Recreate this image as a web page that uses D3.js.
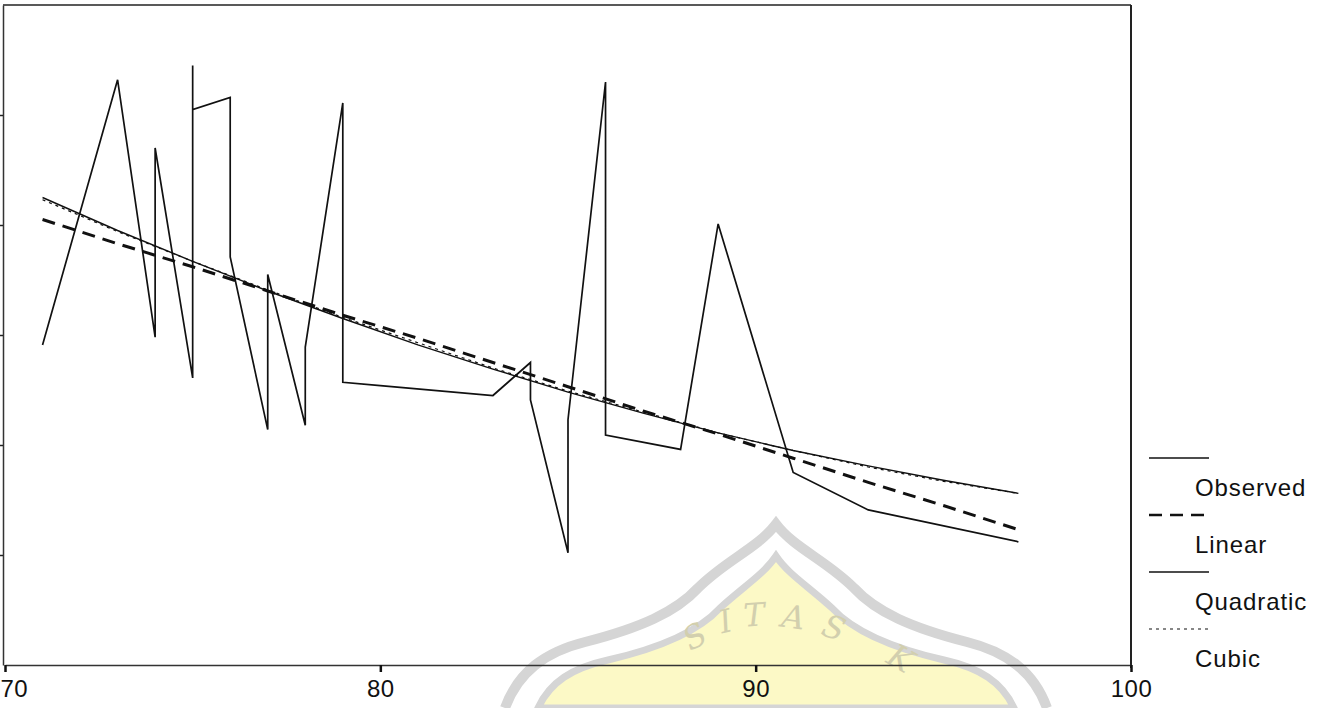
<!DOCTYPE html>
<html>
<head>
<meta charset="utf-8">
<script src="https://cdn.jsdelivr.net/npm/d3@7"></script>
<style>
	body { margin: 0; background: #fff; }
	svg { display: block; font-family: "Liberation Sans", Arial, sans-serif; }
</style>
</head>
<body>
<div id="grafico"></div>
<script>
// observed values, in the order the line was drawn (several values per age)
const obsAge = [71, 73, 74, 74, 75, 75, 75, 76, 76, 77, 77, 78, 78, 79, 79, 80, 83, 84, 84, 85, 85, 86, 86, 88, 89, 91, 93, 97];
const obsValue = [2.91, 5.32, 2.98, 4.70, 2.61, 5.45, 5.05, 5.16, 3.71, 2.14, 3.55, 2.18, 2.89, 5.11, 2.57, 2.54, 2.45, 2.75, 2.41, 1.02, 2.23, 5.30, 2.09, 1.96, 4.01, 1.75, 1.41, 1.12];

// fitted curves
const fitAge = [71, 73, 75, 77, 79, 81, 83, 85, 87, 89, 91, 93, 95, 97];
const linearValue = [4.05, 3.83, 3.62, 3.40, 3.18, 2.97, 2.75, 2.53, 2.31, 2.10, 1.88, 1.66, 1.45, 1.23];
const quadraticValue = [4.25, 3.95, 3.67, 3.40, 3.15, 2.91, 2.69, 2.48, 2.29, 2.11, 1.95, 1.81, 1.68, 1.56];
const cubicValue = [4.23, 3.94, 3.67, 3.41, 3.16, 2.93, 2.70, 2.49, 2.30, 2.11, 1.95, 1.80, 1.67, 1.56];

const xTicks = [70, 80, 90, 100];
const yTicks = [1, 2, 3, 4, 5];
const legendLabels = ["Observed", "Linear", "Quadratic", "Cubic"];

const ancho = 1319;
const alto = 708;
const marginLeft = 5;
const plotRight = 1131;
const marginTop = 5;
const plotBottom = 665;

const svg = d3.select("#grafico")
	.append("svg")
	.attr("width", ancho)
	.attr("height", alto);

// watermark of the scanned page
const marca = svg.append("g").attr("class", "watermark");
marca.append("path")
	.attr("d", "M505,708 C518,672 545,652 585,642 C640,628 676,612 698,588 C726,560 758,548 776,524 C794,548 826,560 854,588 C876,612 912,628 967,642 C1007,652 1034,672 1047,708")
	.attr("fill", "none")
	.attr("stroke", "#d5d5d5")
	.attr("stroke-width", 10);
marca.append("path")
	.attr("d", "M538,708 C550,682 572,668 608,660 C660,648 698,632 720,608 C744,586 764,574 776,556 C788,574 808,586 832,608 C854,632 892,648 944,660 C980,668 1002,682 1014,708 Z")
	.attr("fill", "#fcf9c6")
	.attr("stroke", "#d5d5d5")
	.attr("stroke-width", 7);
const letras = [["S", 700, 646, -28], ["I", 728, 632, -14], ["T", 755, 626, -4], ["A", 792, 628, 8], ["S", 830, 638, 20], ["K", 895, 668, 30]];
marca.selectAll("text")
	.data(letras)
	.enter()
	.append("text")
	.attr("transform", d => "translate(" + d[1] + "," + d[2] + ") rotate(" + d[3] + ")")
	.attr("text-anchor", "middle")
	.attr("font-family", "DejaVu Serif, serif")
	.attr("font-style", "italic")
	.attr("font-size", 32)
	.attr("fill", "#d2cfae")
	.text(d => d[0]);

const xScale = d3.scaleLinear()
	.domain([70, 100])
	.range([marginLeft, plotRight]);

const yScale = d3.scaleLinear()
	.domain([0, 6])
	.range([plotBottom, marginTop]);

// frame: top and right
svg.append("line")
	.attr("x1", 3).attr("x2", plotRight)
	.attr("y1", marginTop).attr("y2", marginTop)
	.attr("stroke", "#222").attr("stroke-width", 1.5);
svg.append("line")
	.attr("x1", plotRight).attr("x2", plotRight)
	.attr("y1", marginTop).attr("y2", plotBottom + 3)
	.attr("stroke", "#222").attr("stroke-width", 2);

// axes
const xAxis = d3.axisBottom(xScale).tickValues(xTicks).tickSize(7).tickSizeOuter(0);
const yAxis = d3.axisLeft(yScale).tickValues(yTicks).tickFormat("").tickSize(4).tickSizeOuter(0);

const gx = svg.append("g")
	.attr("transform", "translate(0," + plotBottom + ")")
	.call(xAxis);
gx.select(".domain").attr("stroke", "#333").attr("stroke-width", 1.3);
gx.selectAll(".tick line").attr("stroke", "#111").attr("stroke-width", 2.5);
gx.selectAll("text")
	.attr("font-size", 24)
	.attr("fill", "#111")
	.attr("letter-spacing", 0.5)
	.attr("dy", "0.9em");
// first label sits against the left edge
gx.selectAll(".tick text")
	.filter(d => d === 70)
	.attr("text-anchor", "start")
	.attr("x", -marginLeft);

const gy = svg.append("g")
	.attr("transform", "translate(" + 3 + ",0)")
	.call(yAxis);
gy.select(".domain").attr("stroke", "#333").attr("stroke-width", 1.5);
gy.selectAll(".tick line").attr("stroke", "#222").attr("stroke-width", 1.5);

// lines
const linea = d3.line()
	.x(d => xScale(d[0]))
	.y(d => yScale(d[1]));

const observed = obsAge.map((a, i) => [a, obsValue[i]]);
const linear = fitAge.map((a, i) => [a, linearValue[i]]);
const quadratic = fitAge.map((a, i) => [a, quadraticValue[i]]);
const cubic = fitAge.map((a, i) => [a, cubicValue[i]]);

const estilos = [
	{ data: observed, width: 1.7, dash: null },
	{ data: linear, width: 3, dash: "13,8" },
	{ data: quadratic, width: 1.4, dash: null },
	{ data: cubic, width: 1.2, dash: "3,4" }
];

svg.selectAll("path.serie")
	.data(estilos)
	.enter()
	.append("path")
	.attr("class", "serie")
	.attr("d", d => linea(d.data))
	.attr("fill", "none")
	.attr("stroke", "#111")
	.attr("stroke-width", d => d.width)
	.attr("stroke-dasharray", d => d.dash)
	.attr("stroke-linejoin", "miter");

// legend
const leyenda = svg.append("g")
	.attr("transform", "translate(1149,458)");

leyenda.selectAll("line")
	.data(estilos)
	.enter()
	.append("line")
	.attr("x1", 0).attr("x2", 60)
	.attr("y1", (d, i) => i * 57).attr("y2", (d, i) => i * 57)
	.attr("stroke", "#111")
	.attr("stroke-width", d => Math.min(d.width, 2.4))
	.attr("stroke-dasharray", d => d.dash);

leyenda.selectAll("text")
	.data(legendLabels)
	.enter()
	.append("text")
	.attr("x", 46)
	.attr("y", (d, i) => i * 57 + 38)
	.attr("font-size", 24)
	.attr("letter-spacing", 0.9)
	.attr("fill", "#111")
	.text(d => d);
</script>
</body>
</html>
